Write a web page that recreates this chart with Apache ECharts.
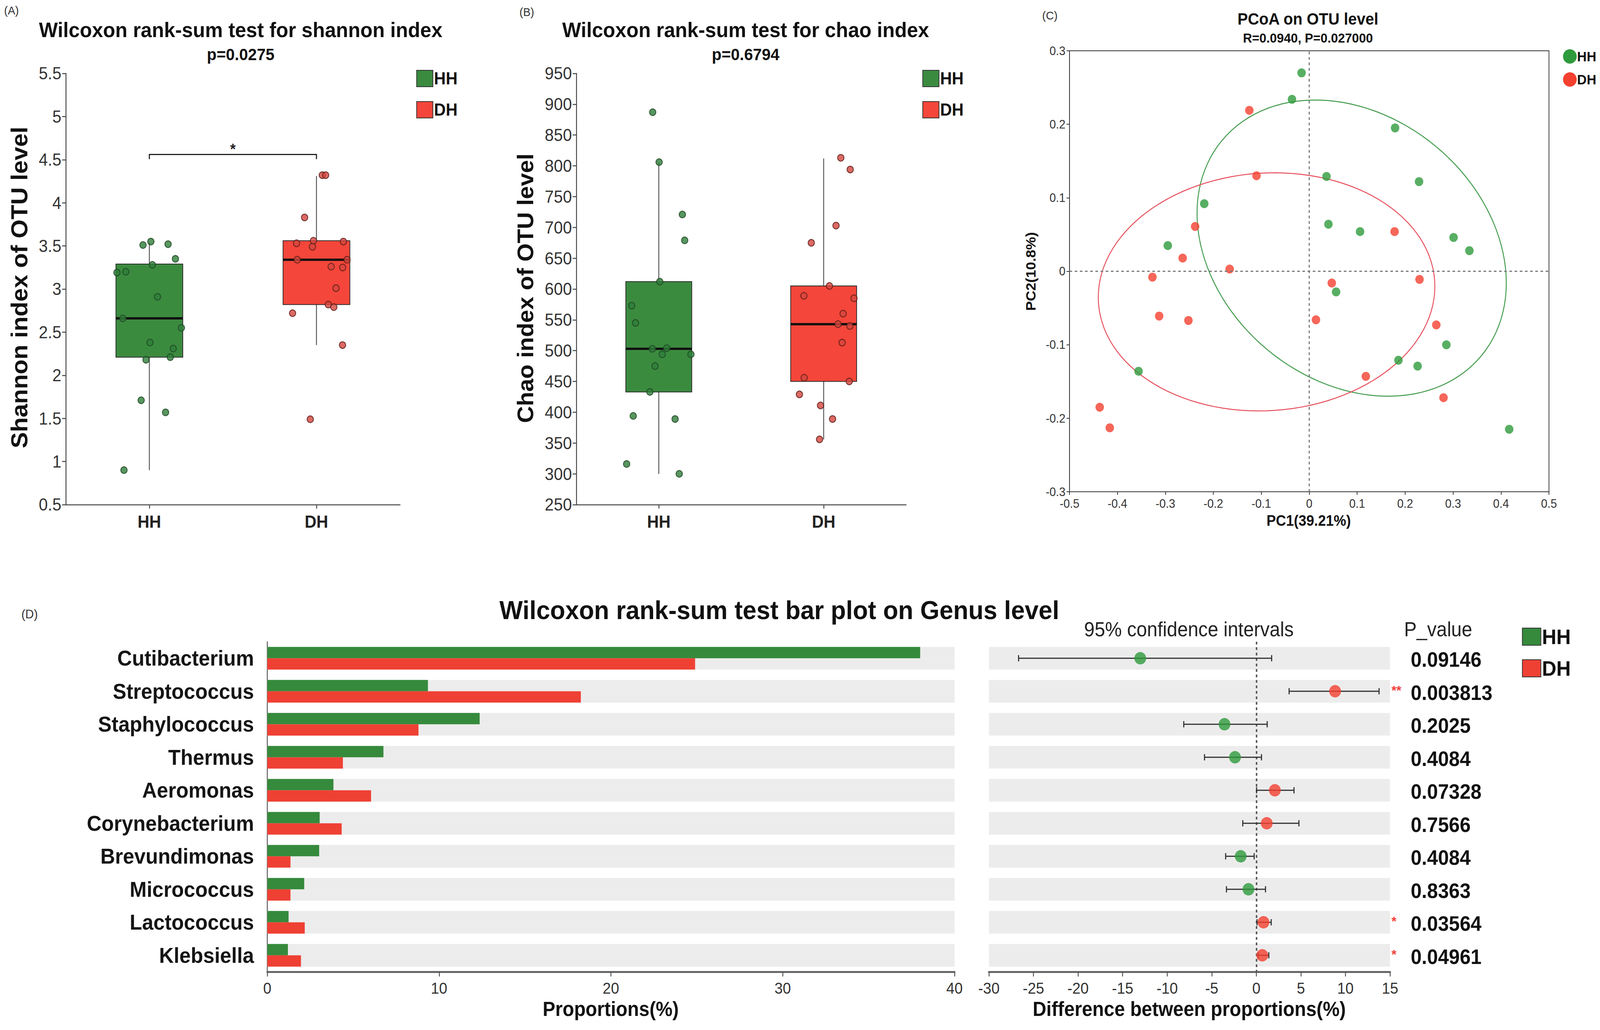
<!DOCTYPE html>
<html>
<head>
<meta charset="utf-8">
<script src="https://cdn.jsdelivr.net/npm/echarts@6/dist/echarts.min.js"></script>
<style>
html,body{margin:0;padding:0;background:#fff;overflow:hidden;width:100vw;height:100vh}
#c{width:4328px;height:2637px;transform-origin:0 0;position:absolute;left:0;top:0}
</style>
</head>
<body>
<div id="c"></div>
<script>
// ---------- DATA ----------
const groups = ['HH', 'DH'];
// box stats: [min, q1, median, q3, max]
const shannonBoxHH = [0.90, 2.21, 2.66, 3.29, 3.54];
const shannonBoxDH = [2.35, 2.82, 3.34, 3.56, 4.31];
const chaoBoxHH = [300, 433, 503, 612, 806];
const chaoBoxDH = [356, 450, 543, 605, 812];
// jittered sample points [xPosition, value]
const shannonPtsHH = [[0.962,3.51],[1.009,3.55],[1.112,3.52],[1.156,3.35],[1.018,3.28],[0.806,3.19],[0.859,3.20],[1.049,2.91],[0.841,2.66],[1.192,2.55],[1.004,2.38],[1.143,2.31],[1.125,2.21],[0.980,2.18],[0.951,1.71],[1.097,1.57],[0.848,0.90]];
const shannonPtsDH = [[2.035,4.32],[2.055,4.32],[1.929,3.83],[1.881,3.53],[1.982,3.56],[1.976,3.49],[2.161,3.55],[1.885,3.34],[2.183,3.34],[2.088,3.26],[2.157,3.25],[2.117,3.01],[2.071,2.82],[2.104,2.79],[1.857,2.72],[2.156,2.35],[1.963,1.49]];
const chaoPtsHH = [[0.963,887],[1.002,806],[1.143,721],[1.157,679],[1.006,612],[0.836,573],[0.859,545],[0.961,503],[1.048,504],[1.021,494],[1.195,494],[0.977,475],[0.946,433],[0.845,394],[1.099,389],[0.805,316],[1.124,300]];
const chaoPtsDH = [[2.104,813],[2.161,794],[2.075,703],[1.925,675],[2.035,605],[1.880,589],[2.184,585],[2.118,560],[2.087,543],[2.159,540],[2.112,513],[1.882,456],[2.155,450],[1.853,429],[1.981,411],[2.054,389],[1.975,356]];
const shannonP = 'p=0.0275';
const chaoP = 'p=0.6794';
// PCoA points [PC1, PC2]
const pcoaHH = [[-0.016,0.270],[-0.036,0.234],[0.179,0.195],[0.036,0.129],[0.229,0.122],[-0.219,0.092],[0.040,0.064],[0.106,0.054],[0.301,0.046],[0.334,0.028],[-0.295,0.035],[0.056,-0.028],[0.286,-0.100],[0.186,-0.121],[0.226,-0.129],[-0.356,-0.136],[0.417,-0.215]];
const pcoaDH = [[-0.125,0.219],[-0.110,0.130],[-0.238,0.061],[0.178,0.054],[-0.264,0.018],[-0.166,0.003],[-0.327,-0.008],[0.047,-0.016],[0.230,-0.011],[-0.313,-0.061],[-0.252,-0.067],[0.014,-0.066],[0.265,-0.073],[0.118,-0.143],[0.280,-0.172],[-0.437,-0.185],[-0.416,-0.213]];
// confidence ellipses: [centerX, centerY, halfWidthX, halfHeightY, phase]
const ellipseHH = [0.0885, 0.0315, 0.3225, 0.2015, -0.238];
const ellipseDH = [-0.089, -0.028, 0.351, 0.162, 0.046];
// genus comparison
const genera = ['Cutibacterium','Streptococcus','Staphylococcus','Thermus','Aeromonas','Corynebacterium','Brevundimonas','Micrococcus','Lactococcus','Klebsiella'];
const propHH = [38.0, 9.35, 12.36, 6.76, 3.85, 3.05, 3.02, 2.15, 1.24, 1.20];
const propDH = [24.9, 18.25, 8.8, 4.4, 6.04, 4.33, 1.35, 1.35, 2.18, 1.96];
const ciDiff = [-13.02, 8.84, -3.57, -2.39, 2.08, 1.17, -1.75, -0.88, 0.81, 0.67];
const ciLow = [-26.67, 3.68, -8.14, -5.81, 0.03, -1.52, -3.44, -3.35, 0.08, 0.21];
const ciHigh = [1.72, 13.77, 1.22, 0.58, 4.23, 4.78, -0.24, 1.03, 1.67, 1.40];
const ciGroup = ['HH','DH','HH','HH','DH','DH','HH','HH','DH','DH'];
const pValues = ['0.09146','0.003813','0.2025','0.4084','0.07328','0.7566','0.4084','0.8363','0.03564','0.04961'];
const sigMarks = ['','**','','','','','','','*','*'];
const shannonTicks = [0.5, 5.5, 0.5];
const chaoTicks = [250, 950, 50];

// ---------- STYLE ----------
const FF = '"Liberation Sans", Arial, sans-serif';
const C = {
  boxG: '#3b8b3f', boxR: '#f4463a',
  ptG: '#2f7d3a', ptGb: '#1d4722', ptR: '#d5463f', ptRb: '#5e1c17',
  pcG: '#2e9b3c', pcR: '#f4402f', elG: '#3f9a4a', elR: '#e64f5c',
  barG: '#358a3b', barR: '#ef4034',
  axis: '#444', text: '#333'
};

// fit the 4328x2637 design into the actual viewport
const el = document.getElementById('c');
const VW = window.innerWidth, VH = window.innerHeight;
el.style.transform = 'scale(' + (VW / 4328) + ',' + (VH / 2637) + ')';

const chart = echarts.init(el, null, {renderer: 'svg', width: 4328, height: 2637});

function boxRender(fill) {
  return function (params, api) {
    const x = api.value(0);
    const pMin = api.coord([x, api.value(1)]);
    const pQ1 = api.coord([x, api.value(2)]);
    const pMed = api.coord([x, api.value(3)]);
    const pQ3 = api.coord([x, api.value(4)]);
    const pMax = api.coord([x, api.value(5)]);
    const hw = api.size([0.2, 0])[0];
    return {type: 'group', children: [
      {type: 'line', shape: {x1: pMin[0], y1: pMin[1], x2: pMax[0], y2: pMax[1]}, style: {stroke: '#555', lineWidth: 2.5}},
      {type: 'rect', shape: {x: pQ3[0] - hw, y: pQ3[1], width: 2 * hw, height: pQ1[1] - pQ3[1]}, style: {fill: fill, stroke: '#2a2a2a', lineWidth: 2}},
      {type: 'line', shape: {x1: pMed[0] - hw, y1: pMed[1], x2: pMed[0] + hw, y2: pMed[1]}, style: {stroke: '#111', lineWidth: 6}}
    ]};
  };
}

function boxAxisX(grid) {
  return {
    type: 'value', gridIndex: grid, min: 0.5, max: 2.5,
    axisLine: {show: true, onZero: false, lineStyle: {color: C.axis, width: 2.5}},
    axisTick: {show: true, length: 10, customValues: [1, 2], lineStyle: {color: C.axis, width: 2.5}},
    axisLabel: {show: true, customValues: [1, 2], formatter: v => groups[Math.round(v) - 1] || '', margin: 22,
      fontSize: 44, fontWeight: 'bold', color: '#222', fontFamily: FF},
    splitLine: {show: false}
  };
}
function boxAxisY(grid, t) {
  return {
    type: 'value', gridIndex: grid, min: t[0], max: t[1], interval: t[2],
    axisLine: {show: true, lineStyle: {color: C.axis, width: 2.5}},
    axisTick: {show: true, length: 10, lineStyle: {color: C.axis, width: 2.5}},
    axisLabel: {fontSize: 44, color: C.text, margin: 12, fontFamily: FF},
    splitLine: {show: false}
  };
}
function ptsSeries(name, grid, data, fill, border) {
  return {type: 'scatter', name: name, xAxisIndex: grid, yAxisIndex: grid, data: data, symbolSize: 17, z: 5,
    itemStyle: {color: fill, borderColor: border, borderWidth: 2.5}};
}

function ellipseRender(stroke) {
  return function (params, api) {
    const cx = api.value(0), cy = api.value(1), w = api.value(2), h = api.value(3), d = api.value(4);
    const pts = [];
    const n = 120;
    for (let k = 0; k <= n; k++) {
      const t = 2 * Math.PI * k / n;
      pts.push(api.coord([cx + w * Math.cos(t), cy + h * Math.sin(t + d)]));
    }
    return {type: 'polyline', shape: {points: pts}, style: {stroke: stroke, fill: null, lineWidth: 2.5}};
  };
}

const txt = (text, x, y, font, opts = {}) => ({
  type: 'text', x: x, y: y, rotation: opts.rot || 0, z: 10,
  style: {text: text, font: font, fill: opts.fill || '#111', textAlign: opts.align || 'center', textVerticalAlign: 'middle'}
});

const legendItem = (name, color, icon) => ({name: name, icon: icon,
  itemStyle: icon === 'rect' ? {color: color, borderColor: '#333', borderWidth: 2} : {color: color, borderWidth: 0}});

const option = {
  animation: false,
  backgroundColor: '#ffffff',
  textStyle: {fontFamily: FF},
  grid: [
    {left: 178, top: 188, width: 904, height: 1104},
    {left: 1559, top: 188, width: 892, height: 1104},
    {left: 2893, top: 130, width: 1297, height: 1129, show: true, borderColor: '#333', borderWidth: 2, backgroundColor: 'transparent'},
    {left: 723, top: 1643, width: 1859, height: 845},
    {left: 2675, top: 1643, width: 1085, height: 845}
  ],
  xAxis: [
    boxAxisX(0),
    boxAxisX(1),
    {type: 'value', gridIndex: 2, min: -0.5, max: 0.5, interval: 0.1,
      axisLine: {show: true, onZero: false, lineStyle: {color: '#333', width: 2}},
      axisTick: {show: true, length: 8, lineStyle: {color: '#333', width: 2}},
      axisLabel: {fontSize: 31, color: C.text, margin: 15, fontFamily: FF},
      splitLine: {show: false}},
    {type: 'value', gridIndex: 3, min: 0, max: 40, interval: 10,
      axisLine: {show: true, onZero: false, lineStyle: {color: '#666', width: 5}},
      axisTick: {show: true, length: 12, lineStyle: {color: '#555', width: 2.5}},
      axisLabel: {fontSize: 40, color: C.text, margin: 22, fontFamily: FF},
      splitLine: {show: false}},
    {type: 'value', gridIndex: 4, min: -30, max: 15, interval: 5,
      axisLine: {show: true, onZero: false, lineStyle: {color: '#666', width: 5}},
      axisTick: {show: true, length: 12, lineStyle: {color: '#555', width: 2.5}},
      axisLabel: {fontSize: 40, color: C.text, margin: 22, fontFamily: FF},
      splitLine: {show: false}}
  ],
  yAxis: [
    boxAxisY(0, shannonTicks),
    boxAxisY(1, chaoTicks),
    {type: 'value', gridIndex: 2, min: -0.3, max: 0.3, interval: 0.1,
      axisLine: {show: true, onZero: false, lineStyle: {color: '#333', width: 2}},
      axisTick: {show: true, length: 8, lineStyle: {color: '#333', width: 2}},
      axisLabel: {fontSize: 31, color: C.text, margin: 11, fontFamily: FF},
      splitLine: {show: false}},
    {type: 'category', gridIndex: 3, data: genera, inverse: true,
      axisLine: {show: true, lineStyle: {color: '#333', width: 2}},
      axisTick: {show: false},
      axisLabel: {fontSize: 55, fontWeight: 'bold', color: '#151515', margin: 36, fontFamily: FF}},
    {type: 'category', gridIndex: 4, data: genera, inverse: true,
      axisLine: {show: false}, axisTick: {show: false}, axisLabel: {show: false}},
    {type: 'category', gridIndex: 4, data: pValues, inverse: true, position: 'right',
      axisLine: {show: false}, axisTick: {show: false},
      axisLabel: {show: true, margin: 4, formatter: (v, i) => '{s|' + sigMarks[i] + '}{p|' + v + '}',
        rich: {s: {width: 52, color: '#f0403a', fontSize: 34, fontWeight: 'bold', fontFamily: FF, align: 'left', verticalAlign: 'bottom', padding: [0, 0, 16, 0]},
               p: {fontSize: 53, fontWeight: 'bold', color: '#111', fontFamily: FF, verticalAlign: 'bottom', lineHeight: 60}}}}
  ],
  legend: [
    {left: 1121, top: 174, orient: 'vertical', itemWidth: 44, itemHeight: 42, itemGap: 36,
      textStyle: {fontSize: 44, fontWeight: 'bold', color: '#111', fontFamily: FF, padding: [0, 0, 0, -2]},
      data: [legendItem('HH', C.boxG, 'rect'), legendItem('DH', C.boxR, 'rect')], selectedMode: false},
    {left: 2490, top: 174, orient: 'vertical', itemWidth: 44, itemHeight: 42, itemGap: 36,
      textStyle: {fontSize: 44, fontWeight: 'bold', color: '#111', fontFamily: FF, padding: [0, 0, 0, -2]},
      data: [legendItem('HH', C.boxG, 'rect'), legendItem('DH', C.boxR, 'rect')], selectedMode: false},
    {left: 4223, top: 121, orient: 'vertical', itemWidth: 37, itemHeight: 37, itemGap: 22,
      textStyle: {fontSize: 36, fontWeight: 'bold', color: '#111', fontFamily: FF, padding: [0, 0, 0, -4]},
      data: [legendItem('HH', C.pcG, 'circle'), legendItem('DH', C.pcR, 'circle')], selectedMode: false},
    {left: 4112, top: 1598, orient: 'vertical', itemWidth: 50, itemHeight: 44, itemGap: 27,
      textStyle: {fontSize: 54, fontWeight: 'bold', color: '#111', fontFamily: FF, padding: [0, 0, 0, -2]},
      data: [legendItem('HH', C.barG, 'rect'), legendItem('DH', C.barR, 'rect')], selectedMode: false}
  ],
  graphic: [
    txt('(A)', 31, 27, '30px ' + FF, {fill: '#333'}),
    txt('(B)', 1425, 31, '30px ' + FF, {fill: '#333'}),
    txt('(C)', 2840, 40, '30px ' + FF, {fill: '#333'}),
    txt('(D)', 80, 1572, '32px ' + FF, {fill: '#333'}),
    txt('Wilcoxon rank-sum test for shannon index', 651, 76, 'bold 54px ' + FF),
    txt(shannonP, 651, 139, 'bold 43px ' + FF),
    txt('Wilcoxon rank-sum test for chao index', 2017, 76, 'bold 54px ' + FF),
    txt(chaoP, 2017, 139, 'bold 43px ' + FF),
    txt('Shannon index of OTU level', 52, 736, 'bold 62px ' + FF, {rot: Math.PI / 2}),
    txt('Chao index of OTU level', 1421, 738, 'bold 60px ' + FF, {rot: Math.PI / 2}),
    txt('PCoA on OTU level', 3538, 49, 'bold 42px ' + FF),
    txt('R=0.0940, P=0.027000', 3538, 97, 'bold 34px ' + FF),
    txt('PC1(39.21%)', 3540, 1333, 'bold 38px ' + FF),
    txt('PC2(10.8%)', 2788, 695, 'bold 37px ' + FF, {rot: Math.PI / 2}),
    txt('Wilcoxon rank-sum test bar plot on Genus level', 2108, 1562, 'bold 67px ' + FF),
    txt('95% confidence intervals', 3216, 1612, '51px ' + FF, {fill: '#222'}),
    txt('P_value', 3798, 1612, '51px ' + FF, {fill: '#222', align: 'left'}),
    txt('Proportions(%)', 1652, 2584, 'bold 51px ' + FF),
    txt('Difference between proportions(%)', 3217, 2584, 'bold 51px ' + FF)
  ],
  series: [
    // ---- A ----
    {type: 'custom', name: 'HH', xAxisIndex: 0, yAxisIndex: 0, data: [[1].concat(shannonBoxHH)], encode: {x: 0, y: [1, 2, 3, 4, 5]}, renderItem: boxRender(C.boxG), itemStyle: {color: C.boxG}, z: 2},
    {type: 'custom', name: 'DH', xAxisIndex: 0, yAxisIndex: 0, data: [[2].concat(shannonBoxDH)], encode: {x: 0, y: [1, 2, 3, 4, 5]}, renderItem: boxRender(C.boxR), itemStyle: {color: C.boxR}, z: 2},
    ptsSeries('HH', 0, shannonPtsHH, C.ptG, C.ptGb),
    ptsSeries('DH', 0, shannonPtsDH, C.ptR, C.ptRb),
    {type: 'custom', xAxisIndex: 0, yAxisIndex: 0, data: [[1, 2, 4.56]], encode: {x: [0, 1], y: 2},
      renderItem: function (params, api) {
        const y = api.value(2);
        const a = api.coord([api.value(0), y]), b = api.coord([api.value(1), y]);
        const drop = 12;
        const mid = api.coord([(api.value(0) + api.value(1)) / 2, y]);
        return {type: 'group', children: [
          {type: 'polyline', shape: {points: [[a[0], a[1] + drop], a, b, [b[0], b[1] + drop]]}, style: {stroke: '#222', lineWidth: 3, fill: null}},
          {type: 'text', x: mid[0], y: mid[1] + 6, style: {text: '*', font: 'bold 38px ' + FF, fill: '#222', textAlign: 'center', textVerticalAlign: 'bottom'}}
        ]};
      }},
    // ---- B ----
    {type: 'custom', name: 'HH', xAxisIndex: 1, yAxisIndex: 1, data: [[1].concat(chaoBoxHH)], encode: {x: 0, y: [1, 2, 3, 4, 5]}, renderItem: boxRender(C.boxG), itemStyle: {color: C.boxG}, z: 2},
    {type: 'custom', name: 'DH', xAxisIndex: 1, yAxisIndex: 1, data: [[2].concat(chaoBoxDH)], encode: {x: 0, y: [1, 2, 3, 4, 5]}, renderItem: boxRender(C.boxR), itemStyle: {color: C.boxR}, z: 2},
    ptsSeries('HH', 1, chaoPtsHH, C.ptG, C.ptGb),
    ptsSeries('DH', 1, chaoPtsDH, C.ptR, C.ptRb),
    // ---- C ----
    {type: 'custom', xAxisIndex: 2, yAxisIndex: 2, data: [ellipseHH], encode: {x: 0, y: 1}, renderItem: ellipseRender(C.elG), z: 2,
      markLine: {silent: true, symbol: 'none', label: {show: false},
        lineStyle: {type: [7, 7], color: '#777', width: 3}, data: [{xAxis: 0}, {yAxis: 0}]}},
    {type: 'custom', xAxisIndex: 2, yAxisIndex: 2, data: [ellipseDH], encode: {x: 0, y: 1}, renderItem: ellipseRender(C.elR), z: 2},
    {type: 'scatter', name: 'HH', xAxisIndex: 2, yAxisIndex: 2, data: pcoaHH, symbolSize: 23, itemStyle: {color: C.pcG}, z: 4},
    {type: 'scatter', name: 'DH', xAxisIndex: 2, yAxisIndex: 2, data: pcoaDH, symbolSize: 23, itemStyle: {color: C.pcR}, z: 4},
    // ---- D left ----
    {type: 'bar', name: 'HH', xAxisIndex: 3, yAxisIndex: 3, data: propHH, barWidth: 29, barGap: '0%',
      itemStyle: {color: C.barG}, showBackground: true, backgroundStyle: {color: '#ececec'}},
    {type: 'bar', name: 'DH', xAxisIndex: 3, yAxisIndex: 3, data: propDH, barWidth: 29, barGap: '0%',
      itemStyle: {color: C.barR}, showBackground: true, backgroundStyle: {color: '#ececec'}},
    // ---- D right ----
    {type: 'custom', xAxisIndex: 4, yAxisIndex: 4, data: genera.map(g => [0, g]), encode: {x: 0, y: 1}, z: 1,
      renderItem: function (params, api) {
        const cs = params.coordSys;
        const p = api.coord([0, api.value(1)]);
        const h = api.size([0, 1])[1] * 0.685;
        return {type: 'rect', shape: {x: cs.x, y: p[1] - h / 2, width: cs.width, height: h}, style: {fill: '#ececec'}};
      }},
    {type: 'custom', xAxisIndex: 4, yAxisIndex: 4, data: genera.map((g, i) => [ciLow[i], g, ciHigh[i]]), encode: {x: [0, 2], y: 1}, z: 3,
      renderItem: function (params, api) {
        const lo = api.coord([api.value(0), api.value(1)]);
        const hi = api.coord([api.value(2), api.value(1)]);
        const c = 8;
        const st = {stroke: '#333', lineWidth: 3};
        return {type: 'group', children: [
          {type: 'line', shape: {x1: lo[0], y1: lo[1], x2: hi[0], y2: hi[1]}, style: st},
          {type: 'line', shape: {x1: lo[0], y1: lo[1] - c, x2: lo[0], y2: lo[1] + c}, style: st},
          {type: 'line', shape: {x1: hi[0], y1: hi[1] - c, x2: hi[0], y2: hi[1] + c}, style: st}
        ]};
      },
      markLine: {silent: true, symbol: 'none', label: {show: false}, z: 2,
        lineStyle: {type: [7, 7], color: '#555', width: 4}, data: [{xAxis: 0}]}},
    {type: 'scatter', xAxisIndex: 4, yAxisIndex: 4, symbolSize: 32, z: 5,
      data: genera.map((g, i) => ({value: [ciDiff[i], g], itemStyle: {color: ciGroup[i] === 'HH' ? C.pcG : C.pcR}}))}
  ]
};
chart.setOption(option);
</script>
</body>
</html>
